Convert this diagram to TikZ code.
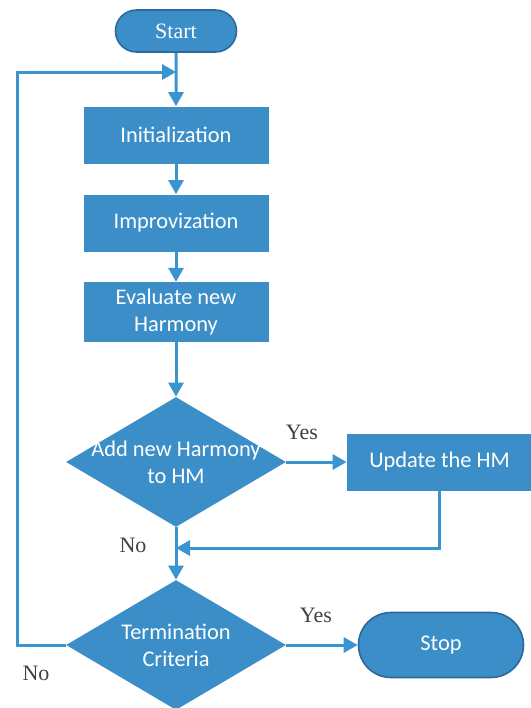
\documentclass[tikz,border=0pt]{standalone}
\usepackage{fontspec}
\setmainfont{Liberation Serif}
\setsansfont{Carlito}
\usetikzlibrary{arrows.meta,positioning,shapes.geometric,shapes.misc}
\definecolor{hsblue}{RGB}{59,142,199}
\definecolor{hsline}{RGB}{58,148,207}
\definecolor{hsedge}{RGB}{44,104,158}
\tikzset{
	frame/.style={
		rectangle, fill=hsblue, text=white,
		minimum width=92.5pt, minimum height=28.5pt,
		align=center, font=\sffamily\fontsize{11.2}{13.5}\selectfont,
	},
	terminal/.style={
		rounded rectangle, fill=hsblue, draw=hsedge, line width=0.8pt,
		text=white, inner sep=0pt,
	},
	decision/.style={
		diamond, fill=hsblue, inner sep=0pt,
		minimum width=110pt, minimum height=65pt,
	},
	dlabel/.style={
		text=white, align=center, inner sep=0pt,
		font=\sffamily\fontsize{11.2}{13.5}\selectfont,
	},
	yn/.style={
		text=black!75, font=\fontsize{11}{13}\selectfont,
	},
	line/.style={
		draw=hsline, line width=1.5pt, -{Triangle[length=7pt,width=7.5pt]},
	}
}

\begin{document}
\begin{tikzpicture}[x=0.5pt, y=0.5pt]
	\useasboundingbox (0,0) rectangle (531,-708);

	\node [terminal, minimum width=60.5pt, minimum height=21pt, font=\fontsize{11}{13}\selectfont] (start) at (176,-31) {Start};
	\node [frame, below of=start, node distance=52pt] (init) {Initialization};
	\node [frame, below of=init, node distance=44pt] (impro) {Improvization};
	\node [frame, below of=impro, node distance=44.5pt] (eval) {Evaluate new\\Harmony};
	\node [decision, below of=eval, node distance=75pt, label={[dlabel]center:Add new Harmony\\to HM}] (add) {};
	\node [frame, right of=add, node distance=131.75pt] (upd) {Update the HM};
	\node [decision, below of=add, node distance=91.5pt, label={[dlabel]center:Termination\\Criteria}] (term) {};
	\node [terminal, right of=term, node distance=132.5pt, minimum width=82.5pt, minimum height=32.5pt, font=\sffamily\fontsize{11.2}{13.5}\selectfont] (stop) {Stop};

	\node [yn] (yes1) at (302,-432) {Yes};
	\node [yn] (no1) at (133,-545) {No};
	\node [yn] (yes2) at (316,-615) {Yes};
	\node [yn] (no2) at (36,-673) {No};

	\coordinate (join) at (176,-72);
	\coordinate (merge) at (176,-548);

	\path [line] (start) -- (init);
	\path [line] (init) -- (impro);
	\path [line] (impro) -- (eval);
	\path [line] (eval) -- (add);
	\path [line] (add) -- (upd);
	\path [line] (upd.south) |- (merge);
	\path [line] (add) -- (term);
	\path [line] (term) -- (stop);
	\path [line] (term.west) -- ++(-48,0) |- (join);
\end{tikzpicture}
\end{document}
